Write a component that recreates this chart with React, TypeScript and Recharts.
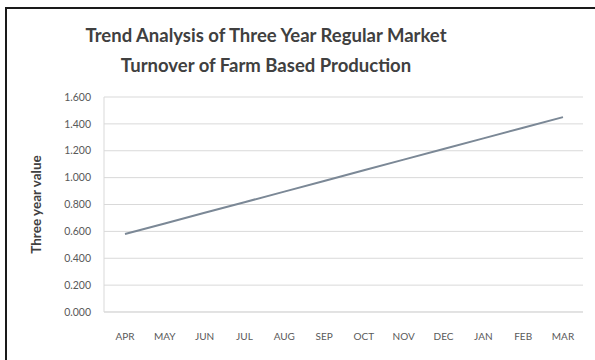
import React from 'react';
import { LineChart, Line, XAxis, YAxis, CartesianGrid, Label } from 'recharts';

// monthly turnover trend, April to March
const months = ['APR', 'MAY', 'JUN', 'JUL', 'AUG', 'SEP', 'OCT', 'NOV', 'DEC', 'JAN', 'FEB', 'MAR'];
const threeYearValue = [0.58, 0.659, 0.738, 0.817, 0.896, 0.975, 1.055, 1.134, 1.213, 1.292, 1.371, 1.45];
const yTicks = [0, 0.2, 0.4, 0.6, 0.8, 1.0, 1.2, 1.4, 1.6];

const data = months.map((m, i) => ({ month: m, value: threeYearValue[i] }));

const font = 'Lato, "Liberation Sans", sans-serif';

export default function App() {
  return (
    <div style={{ position: 'fixed', left: 0, top: 0, width: 595, height: 360, background: '#fff', fontFamily: font }}>
      {/* frame */}
      <div style={{ position: 'absolute', left: 5, top: 7, right: -4, bottom: -4, borderLeft: '2px solid #1a1a1a', borderTop: '2px solid #1a1a1a' }} />
      <div style={{ position: 'absolute', left: 16, width: 500, top: 20, textAlign: 'center', fontWeight: 700, fontSize: 18.5, lineHeight: '30px', color: '#404040' }}>
        Trend Analysis of Three Year Regular Market
        <br />
        Turnover of Farm Based Production
      </div>
      <LineChart width={595} height={360} data={data} margin={{ top: 97, right: 12, bottom: 18, left: 64 }} style={{ position: 'absolute', left: 0, top: 0 }}>
        <CartesianGrid vertical={false} stroke="#d9d9d9" />
        <XAxis
          dataKey="month"
          height={30}
          padding={{ left: 21, right: 20 }}
          axisLine={{ stroke: '#d9d9d9' }}
          tickLine={false}
          tickMargin={15}
          tick={{ fontSize: 10, fill: '#595959', fontFamily: font }}
          interval={0}
        />
        <YAxis
          domain={[0, 1.6]}
          ticks={yTicks}
          width={40}
          axisLine={{ stroke: '#d9d9d9' }}
          tickLine={false}
          tickMargin={7}
          tickFormatter={(v: number) => v.toFixed(3)}
          tick={{ fontSize: 10.5, fill: '#595959', fontFamily: font }}
        >
          <Label
            value="Three year value"
            angle={-90}
            position="insideLeft"
            offset={0}
            style={{ fontSize: 13.5, fontWeight: 700, fill: '#404040', fontFamily: font, textAnchor: 'middle' }}
            dx={-28}
          />
        </YAxis>
        <Line type="linear" dataKey="value" stroke="#7b8896" strokeWidth={2} dot={false} isAnimationActive={false} />
      </LineChart>
    </div>
  );
}
